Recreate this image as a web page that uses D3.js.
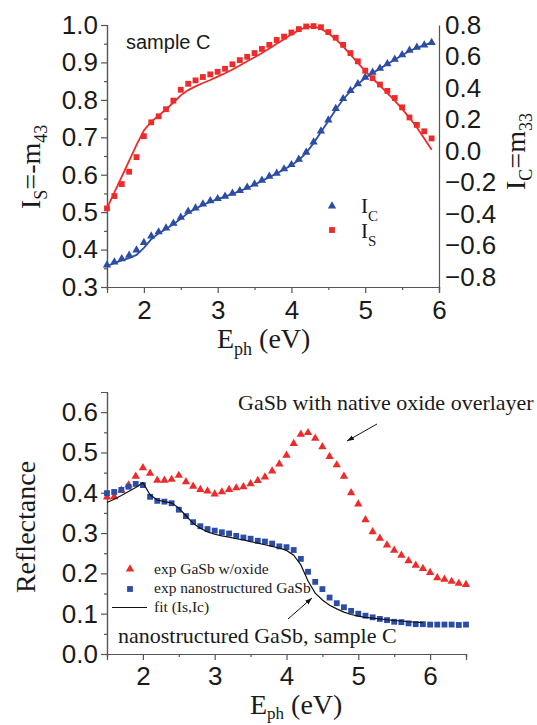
<!DOCTYPE html>
<html>
<head>
<meta charset="utf-8">
<script src="https://cdn.jsdelivr.net/npm/d3@7"></script>
<style>
body { margin: 0; background: #fff; }
svg text { fill: #1a1a1a; }
.tick text { font-family: "Liberation Sans", Arial, sans-serif; font-size: 26px; fill: #1a1a1a; }
.tick line, .domain { stroke: #555; stroke-width: 1.2; }
.serif { font-family: "Liberation Serif", "Times New Roman", serif; }
.sans { font-family: "Liberation Sans", Arial, sans-serif; }
</style>
</head>
<body>
<svg id="chart" width="537" height="725"></svg>
<script>

// photon energies (eV)
var eTop = [1.5,1.6,1.7,1.8,1.9,2.0,2.1,2.2,2.3,2.4,2.5,2.6,2.7,2.8,2.9,3.0,3.1,3.2,3.3,3.4,3.5,3.6,3.7,3.8,3.9,
	4.0,4.1,4.2,4.3,4.4,4.5,4.6,4.7,4.8,4.9,5.0,5.1,5.2,5.3,5.4,5.5,5.6,5.7,5.8,5.9];
var eBot = [1.5,1.6,1.7,1.8,1.9,2.0,2.1,2.2,2.3,2.4,2.5,2.6,2.7,2.8,2.9,3.0,3.1,3.2,3.3,3.4,3.5,3.6,3.7,3.8,3.9,
	4.0,4.1,4.2,4.3,4.4,4.5,4.6,4.7,4.8,4.9,5.0,5.1,5.2,5.3,5.4,5.5,5.6,5.7,5.8,5.9,6.0,6.1,6.2,6.3,6.4,6.5];

// top panel: Is = -m43 (left axis), Ic = m33 (right axis)
var isExp = [0.510,0.543,0.575,0.608,0.647,0.703,0.740,0.756,0.775,0.798,0.827,0.843,0.852,0.861,0.868,0.875,0.883,0.895,0.906,0.915,0.925,0.936,0.947,
	0.960,0.969,0.980,0.989,0.996,0.997,0.994,0.981,0.966,0.947,0.925,0.903,0.878,0.858,0.841,0.824,0.805,0.780,0.753,0.733,0.716,0.697];
var isFit = [0.510,0.553,0.595,0.637,0.680,0.718,0.742,0.758,0.775,0.793,0.812,0.826,0.836,0.845,0.853,0.862,0.871,0.881,0.892,0.903,0.914,0.925,0.937,
	0.950,0.962,0.975,0.986,0.994,0.996,0.990,0.978,0.962,0.943,0.921,0.899,0.877,0.857,0.838,0.818,0.798,0.776,0.752,0.726,0.697,0.667];
var icExp = [-0.724,-0.705,-0.684,-0.662,-0.629,-0.582,-0.540,-0.514,-0.489,-0.459,-0.421,-0.383,-0.362,-0.337,-0.316,-0.303,-0.288,-0.269,-0.252,-0.231,-0.210,-0.186,-0.161,
	-0.142,-0.114,-0.087,-0.053,-0.008,0.057,0.127,0.197,0.269,0.332,0.383,0.427,0.468,0.500,0.525,0.554,0.582,0.611,0.639,0.658,0.673,0.688];
var icFit = [-0.730,-0.712,-0.695,-0.680,-0.660,-0.615,-0.560,-0.523,-0.495,-0.465,-0.430,-0.393,-0.366,-0.343,-0.323,-0.306,-0.290,-0.272,-0.255,-0.235,-0.214,-0.190,-0.166,
	-0.143,-0.117,-0.090,-0.057,-0.012,0.050,0.120,0.190,0.262,0.327,0.380,0.425,0.463,0.495,0.523,0.552,0.580,0.608,0.635,0.655,0.672,0.688];

// bottom panel: reflectance
var rOxide = [0.389,0.390,0.406,0.419,0.441,0.462,0.448,0.431,0.431,0.433,0.443,0.427,0.416,0.408,0.404,0.397,0.402,0.408,0.412,0.415,0.422,0.430,0.439,0.454,0.471,
	0.493,0.522,0.545,0.549,0.535,0.514,0.490,0.469,0.441,0.400,0.372,0.333,0.303,0.287,0.270,0.257,0.245,0.231,0.220,0.212,0.202,0.189,0.185,0.180,0.175,0.172];
var rNano = [0.399,0.402,0.407,0.415,0.422,0.419,0.390,0.380,0.378,0.374,0.358,0.342,0.327,0.317,0.310,0.306,0.302,0.299,0.293,0.289,0.286,0.281,0.279,0.274,0.267,
	0.265,0.258,0.236,0.204,0.179,0.161,0.140,0.126,0.116,0.107,0.100,0.095,0.091,0.087,0.084,0.080,0.079,0.076,0.074,0.074,0.073,0.073,0.073,0.073,0.072,0.073];
var rFit = [0.376,0.384,0.393,0.403,0.413,0.425,0.395,0.382,0.378,0.375,0.362,0.343,0.324,0.312,0.303,0.297,0.293,0.290,0.286,0.283,0.279,0.275,0.271,0.267,0.263,
	0.257,0.245,0.221,0.181,0.151,0.134,0.121,0.112,0.104,0.098,0.094,0.091,0.089,0.087,0.085,0.083,0.082,0.080,0.079,0.078];

var xTicks = [2, 3, 4, 5, 6];
var xMinor = [1.5, 2.5, 3.5, 4.5, 5.5];
var xMinorBot = [1.5, 2.5, 3.5, 4.5, 5.5, 6.5];
var isTicks = [0.3, 0.4, 0.5, 0.6, 0.7, 0.8, 0.9, 1.0];
var isMinor = [0.35, 0.45, 0.55, 0.65, 0.75, 0.85, 0.95];
var icTicks = [-0.8, -0.6, -0.4, -0.2, 0.0, 0.2, 0.4, 0.6, 0.8];
var rTicks = [0.0, 0.1, 0.2, 0.3, 0.4, 0.5, 0.6];
var rMinor = [0.05, 0.15, 0.25, 0.35, 0.45, 0.55];

var red = "#ee2b2b", blue = "#2c4da6";

var svg = d3.select("#chart");

function zip(xs, ys) {
	return ys.map(function(v, i) { return [xs[i], v]; });
}

function styleAxis(g) {
	g.attr("font-family", null).attr("font-size", null);
	g.selectAll(".tick text").attr("fill", null);
	g.selectAll(".tick line").attr("stroke", null);
	g.select(".domain").attr("stroke", null);
}

// ---------- top panel ----------
var xT = d3.scaleLinear().domain([1.5, 6]).range([107, 439]);
var yL = d3.scaleLinear().domain([0.3, 1.0]).range([287, 25]);
var yR = d3.scaleLinear().domain([-0.8635, 0.8]).range([287, 25]);

var topG = svg.append("g");

topG.append("g").attr("transform", "translate(0,287)")
	.call(d3.axisBottom(xT).tickValues(xMinor).tickSize(3).tickFormat(""))
	.call(styleAxis);
topG.append("g").attr("transform", "translate(0,287)")
	.call(d3.axisBottom(xT).tickValues(xTicks).tickSize(6).tickPadding(8).tickFormat(d3.format("d")))
	.call(styleAxis);
topG.append("g").attr("transform", "translate(107,0)")
	.call(d3.axisLeft(yL).tickValues(isMinor).tickSize(3).tickFormat(""))
	.call(styleAxis);
topG.append("g").attr("transform", "translate(107,0)")
	.call(d3.axisLeft(yL).tickValues(isTicks).tickSize(6).tickPadding(3).tickFormat(d3.format(".1f")))
	.call(styleAxis);
topG.append("g").attr("transform", "translate(439,0)")
	.call(d3.axisRight(yR).tickValues(icTicks).tickSize(0).tickPadding(6).tickFormat(d3.format(".1f")))
	.call(styleAxis);

var lineTop = function(ys, yScale) {
	return d3.line().x(function(d) { return xT(d[0]); }).y(function(d) { return yScale(d[1]); })(zip(eTop, ys));
};

topG.append("path").attr("d", lineTop(isFit, yL))
	.attr("fill", "none").attr("stroke", red).attr("stroke-width", 1.8);
topG.append("path").attr("d", lineTop(icFit, yR))
	.attr("fill", "none").attr("stroke", blue).attr("stroke-width", 1.8);

var tri = d3.symbol().type(d3.symbolTriangle).size(30);
var sq = d3.symbol().type(d3.symbolSquare).size(34);

topG.selectAll(".ic").data(zip(eTop, icExp)).enter().append("path")
	.attr("d", tri)
	.attr("transform", function(d) { return "translate(" + xT(d[0]) + "," + yR(d[1]) + ")"; })
	.attr("fill", blue);
topG.selectAll(".is").data(zip(eTop, isExp)).enter().append("path")
	.attr("d", sq)
	.attr("transform", function(d) { return "translate(" + xT(d[0]) + "," + yL(d[1]) + ")"; })
	.attr("fill", red);

topG.append("text").attr("class", "sans")
	.attr("x", 126).attr("y", 49).attr("font-size", 20)
	.text("sample C");

// legend
topG.append("path").attr("d", tri).attr("transform", "translate(332,206)").attr("fill", blue);
topG.append("path").attr("d", sq).attr("transform", "translate(332,230)").attr("fill", red);
var lg1 = topG.append("text").attr("class", "serif").attr("x", 361).attr("y", 213).attr("font-size", 21);
lg1.append("tspan").text("I");
lg1.append("tspan").attr("font-size", 15).attr("dy", 8).text("C");
var lg2 = topG.append("text").attr("class", "serif").attr("x", 361).attr("y", 238).attr("font-size", 21);
lg2.append("tspan").text("I");
lg2.append("tspan").attr("font-size", 15).attr("dy", 8).text("S");

// axis titles
var xt1 = topG.append("text").attr("class", "serif").attr("x", 217).attr("y", 348).attr("font-size", 28);
xt1.append("tspan").text("E");
xt1.append("tspan").attr("font-size", 18).attr("dy", 7).text("ph");
xt1.append("tspan").attr("dy", -7).text(" (eV)");

var yt1 = topG.append("text").attr("class", "serif").attr("font-size", 28)
	.attr("transform", "translate(40,209) rotate(-90)");
yt1.append("tspan").text("I");
yt1.append("tspan").attr("font-size", 18).attr("dy", 7).text("S");
yt1.append("tspan").attr("dy", -7).text("=-m");
yt1.append("tspan").attr("font-size", 18).attr("dy", 7).text("43");

var yt2 = topG.append("text").attr("class", "serif").attr("font-size", 28)
	.attr("transform", "translate(525,190) rotate(-90)");
yt2.append("tspan").text("I");
yt2.append("tspan").attr("font-size", 18).attr("dy", 7).text("C");
yt2.append("tspan").attr("dy", -7).text("=m");
yt2.append("tspan").attr("font-size", 18).attr("dy", 7).text("33");

// ---------- bottom panel ----------
var xB = d3.scaleLinear().domain([1.5, 6.5]).range([107, 466]);
var yB = d3.scaleLinear().domain([0, 0.65]).range([654, 392]);

var bot = svg.append("g");

bot.append("g").attr("transform", "translate(0,654)")
	.call(d3.axisBottom(xB).tickValues(xMinorBot).tickSize(3).tickFormat(""))
	.call(styleAxis);
bot.append("g").attr("transform", "translate(0,654)")
	.call(d3.axisBottom(xB).tickValues(xTicks).tickSize(6).tickPadding(7).tickFormat(d3.format("d")))
	.call(styleAxis);
bot.append("g").attr("transform", "translate(107,0)")
	.call(d3.axisLeft(yB).tickValues(rMinor).tickSize(3).tickFormat(""))
	.call(styleAxis);
bot.append("g").attr("transform", "translate(107,0)")
	.call(d3.axisLeft(yB).tickValues(rTicks).tickSize(6).tickPadding(3).tickFormat(d3.format(".1f")))
	.call(styleAxis);

var lineBot = d3.line().x(function(d) { return xB(d[0]); }).y(function(d) { return yB(d[1]); });

bot.selectAll(".ox").data(zip(eBot, rOxide)).enter().append("path")
	.attr("d", tri)
	.attr("transform", function(d) { return "translate(" + xB(d[0]) + "," + yB(d[1]) + ")"; })
	.attr("fill", red);
bot.selectAll(".nano").data(zip(eBot, rNano)).enter().append("path")
	.attr("d", sq)
	.attr("transform", function(d) { return "translate(" + xB(d[0]) + "," + yB(d[1]) + ")"; })
	.attr("fill", blue);
bot.append("path").attr("d", lineBot(zip(eBot, rFit)))
	.attr("fill", "none").attr("stroke", "#111").attr("stroke-width", 1.2);

// legend
bot.append("path").attr("d", tri).attr("transform", "translate(130,569)").attr("fill", red);
bot.append("path").attr("d", sq).attr("transform", "translate(130,589)").attr("fill", blue);
bot.append("line").attr("x1", 112).attr("x2", 147).attr("y1", 607.5).attr("y2", 607.5)
	.attr("stroke", "#111").attr("stroke-width", 1.2);
bot.append("text").attr("class", "serif").attr("x", 154).attr("y", 574).attr("font-size", 15.5).text("exp GaSb w/oxide");
bot.append("text").attr("class", "serif").attr("x", 154).attr("y", 593).attr("font-size", 15.5).text("exp nanostructured GaSb");
bot.append("text").attr("class", "serif").attr("x", 154).attr("y", 612).attr("font-size", 15.5).text("fit (Is,Ic)");

// annotations
svg.append("defs").append("marker")
	.attr("id", "arrow").attr("viewBox", "0 0 10 10").attr("refX", 10).attr("refY", 5)
	.attr("markerWidth", 7).attr("markerHeight", 7).attr("orient", "auto")
	.append("path").attr("d", "M0,1.5 L10,5 L0,8.5 Z").attr("fill", "#111");

bot.append("text").attr("class", "serif").attr("x", 238).attr("y", 410).attr("font-size", 22)
	.text("GaSb with native oxide overlayer");
bot.append("line").attr("x1", 377).attr("y1", 424).attr("x2", 347).attr("y2", 441)
	.attr("stroke", "#111").attr("stroke-width", 1).attr("marker-end", "url(#arrow)");

bot.append("text").attr("class", "serif").attr("x", 118).attr("y", 643).attr("font-size", 22)
	.text("nanostructured GaSb, sample C");
bot.append("line").attr("x1", 288).attr("y1", 619).attr("x2", 312).attr("y2", 598)
	.attr("stroke", "#111").attr("stroke-width", 1).attr("marker-end", "url(#arrow)");

// axis titles
var xt2 = bot.append("text").attr("class", "serif").attr("x", 250).attr("y", 714).attr("font-size", 28);
xt2.append("tspan").text("E");
xt2.append("tspan").attr("font-size", 17).attr("dy", 5).text("ph");
xt2.append("tspan").attr("dy", -5).text(" (eV)");

bot.append("text").attr("class", "serif").attr("font-size", 28)
	.attr("transform", "translate(35,527) rotate(-90)")
	.attr("text-anchor", "middle")
	.text("Reflectance");

</script>
</body>
</html>
